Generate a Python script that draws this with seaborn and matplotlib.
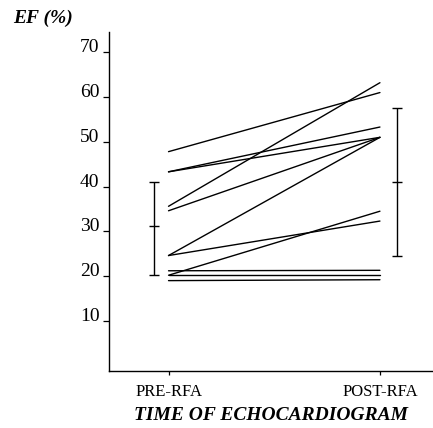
import numpy as np
import pandas as pd
import matplotlib
matplotlib.use("Agg")
import matplotlib.pyplot as plt
import seaborn as sns

sns.set_style("ticks")
plt.rcParams["font.family"] = ["Liberation Serif", "DejaVu Serif"]
plt.rcParams["text.color"] = "black"
plt.rcParams["axes.labelcolor"] = "black"

# EF per patient before / after RFA
pre_ef = [47.8, 43.3, 43.3, 35.6, 34.6, 24.6, 24.6, 20.2, 21.2, 20.2, 19.0]
post_ef = [61.0, 53.3, 51.0, 63.2, 51.0, 51.0, 32.3, 34.5, 21.3, 20.2, 19.2]
time_labels = ["PRE-RFA", "POST-RFA"]

# mean with lower / upper bar ends
group_mean = [31.1, 41.1]
group_low = [20.2, 24.6]
group_high = [41.1, 57.6]
yticks = [10, 20, 30, 40, 50, 60, 70]

n = len(pre_ef)
df = pd.DataFrame({
    "patient": list(range(n)) * 2,
    "time": [0] * n + [1] * n,
    "ef": pre_ef + post_ef,
})

fig = plt.figure(figsize=(4.33, 4.28), dpi=100)
ax = fig.add_axes([0.252, 0.133, 0.748, 0.792])

sns.lineplot(data=df, x="time", y="ef", units="patient", estimator=None,
             color="black", lw=1.0, ax=ax, legend=False)

# error bars drawn beside each time point
bar_x = [-0.069, 1.08]
m = np.array(group_mean)
yerr = [m - np.array(group_low), np.array(group_high) - m]
ax.errorbar(bar_x, group_mean, yerr=yerr, fmt="none", ecolor="black",
            elinewidth=1.0, capsize=3.6, capthick=1.0)
# small tick at the mean
ax.errorbar(bar_x, group_mean, xerr=0.025, fmt="none", ecolor="black", elinewidth=1.0)

ax.set_xlim(-0.281, 1.251)
ax.set_ylim(-1.2, 74.5)
ax.set_xticks([0, 1])
ax.set_xticklabels(time_labels, fontsize=12)
ax.set_yticks(yticks)
ax.set_yticklabels([str(t) for t in yticks], fontsize=14)
for lab in ax.get_yticklabels():
    lab.set_va("baseline")
ax.tick_params(axis="y", length=4, width=0.9, pad=3, colors="black")
ax.tick_params(axis="x", length=3, width=0.9, pad=6, colors="black")

sns.despine(ax=ax)
for s in ["left", "bottom"]:
    ax.spines[s].set_linewidth(1.0)
    ax.spines[s].set_color("black")

ax.set_xlabel("TIME OF ECHOCARDIOGRAM", fontsize=14, fontweight="bold",
              style="italic", labelpad=5)
ax.set_ylabel("")
fig.text(0.03, 0.958, "EF (%)", fontsize=14, fontweight="bold", style="italic",
         ha="left", va="center")

fig.savefig("out.png", dpi=100)
